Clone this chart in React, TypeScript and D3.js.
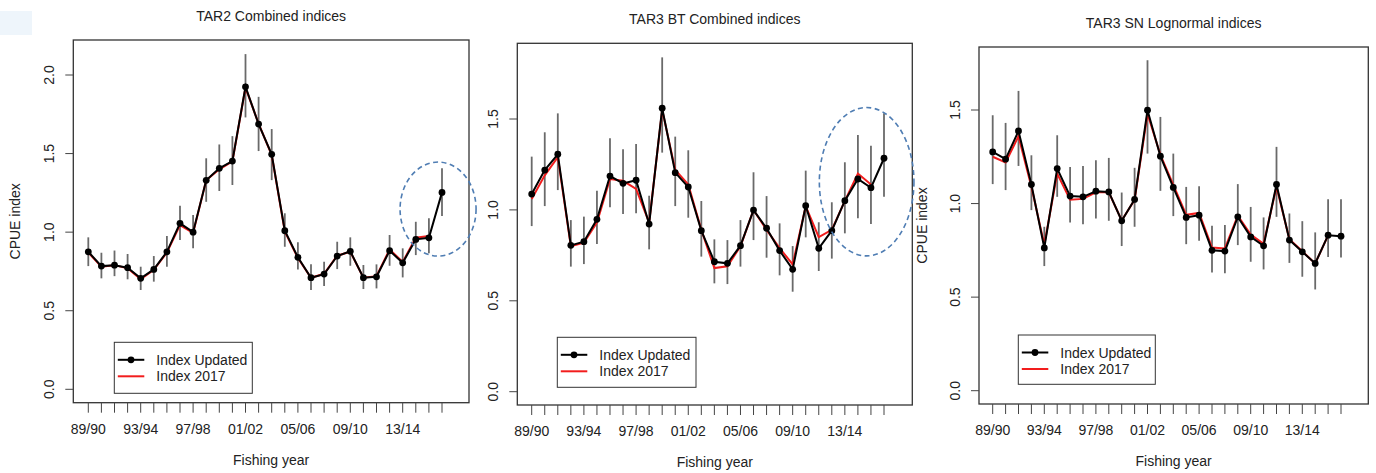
import React from 'react';
import * as d3 from 'd3';

// fishing years 89/90 .. 16/17
const years = ['89/90', '90/91', '91/92', '92/93', '93/94', '94/95', '95/96', '96/97', '97/98', '98/99',
  '99/00', '00/01', '01/02', '02/03', '03/04', '04/05', '05/06', '06/07', '07/08', '08/09',
  '09/10', '10/11', '11/12', '12/13', '13/14', '14/15', '15/16', '16/17'];
const labelledYears = ['89/90', '93/94', '97/98', '01/02', '05/06', '09/10', '13/14'];

// TAR2 Combined
const tar2Updated = [0.875, 0.784, 0.79, 0.774, 0.706, 0.763, 0.875, 1.056, 1.0, 1.33, 1.406, 1.452, 1.925, 1.688,
  1.495, 1.009, 0.84, 0.71, 0.733, 0.848, 0.878, 0.71, 0.716, 0.882, 0.805, 0.954, 0.964, 1.253];
const tar2Lower = [0.784, 0.706, 0.72, 0.70, 0.632, 0.685, 0.78, 0.95, 0.897, 1.193, 1.262, 1.30, 1.73, 1.516,
  1.331, 0.907, 0.763, 0.632, 0.657, 0.765, 0.786, 0.638, 0.642, 0.786, 0.712, 0.854, 0.865, 1.103];
const tar2Upper = [0.967, 0.869, 0.883, 0.861, 0.78, 0.848, 0.975, 1.168, 1.109, 1.47, 1.558, 1.611, 2.133, 1.861,
  1.656, 1.12, 0.935, 0.795, 0.812, 0.939, 0.967, 0.791, 0.795, 0.982, 0.897, 1.066, 1.088, 1.406];
const tar2Index2017 = [0.87, 0.78, 0.79, 0.77, 0.70, 0.76, 0.87, 1.045, 0.995, 1.33, 1.40, 1.45, 1.92, 1.69,
  1.49, 1.005, 0.835, 0.71, 0.735, 0.85, 0.875, 0.71, 0.72, 0.89, 0.81, 0.965, 0.975];

// TAR3 BT Combined
const btUpdated = [1.087, 1.219, 1.306, 0.805, 0.825, 0.948, 1.186, 1.146, 1.163, 0.922, 1.559, 1.205, 1.126, 0.886,
  0.715, 0.706, 0.803, 0.999, 0.899, 0.776, 0.673, 1.023, 0.789, 0.886, 1.051, 1.17, 1.122, 1.284];
const btLower = [0.911, 1.021, 1.109, 0.688, 0.702, 0.812, 1.014, 0.977, 0.981, 0.783, 1.315, 1.021, 0.957, 0.743,
  0.596, 0.592, 0.688, 0.834, 0.737, 0.64, 0.55, 0.849, 0.664, 0.732, 0.871, 0.954, 0.922, 1.073];
const btUpper = [1.293, 1.427, 1.531, 0.944, 0.963, 1.106, 1.394, 1.333, 1.362, 1.078, 1.839, 1.403, 1.328, 1.049,
  0.838, 0.834, 0.944, 1.207, 1.076, 0.926, 0.801, 1.216, 0.932, 1.042, 1.262, 1.412, 1.353, 1.531];
const btIndex2017 = [1.06, 1.19, 1.29, 0.80, 0.82, 0.93, 1.17, 1.16, 1.115, 0.93, 1.55, 1.22, 1.14, 0.89,
  0.68, 0.69, 0.80, 1.0, 0.89, 0.79, 0.70, 1.02, 0.85, 0.89, 1.05, 1.20, 1.14];

// TAR3 SN Lognormal
const snUpdated = [1.276, 1.237, 1.388, 1.102, 0.763, 1.187, 1.04, 1.036, 1.066, 1.062, 0.908, 1.022, 1.499, 1.253,
  1.086, 0.926, 0.938, 0.75, 0.746, 0.929, 0.822, 0.774, 1.102, 0.805, 0.742, 0.68, 0.831, 0.826];
const snLower = [1.104, 1.072, 1.201, 0.965, 0.666, 1.036, 0.899, 0.89, 0.92, 0.908, 0.773, 0.876, 1.267, 1.068,
  0.933, 0.783, 0.801, 0.632, 0.627, 0.778, 0.689, 0.648, 0.929, 0.683, 0.609, 0.541, 0.715, 0.712];
const snUpper = [1.472, 1.431, 1.602, 1.258, 0.876, 1.365, 1.196, 1.201, 1.232, 1.244, 1.059, 1.191, 1.766, 1.463,
  1.267, 1.089, 1.093, 0.881, 0.885, 1.104, 0.982, 0.926, 1.303, 0.947, 0.906, 0.846, 1.023, 1.023];
const snIndex2017 = [1.25, 1.22, 1.36, 1.09, 0.78, 1.16, 1.02, 1.025, 1.06, 1.06, 0.91, 1.02, 1.48, 1.26,
  1.10, 0.94, 0.95, 0.765, 0.76, 0.935, 0.835, 0.785, 1.09, 0.81, 0.745, 0.68, 0.83];

const yTicks2 = [0, 0.5, 1.0, 1.5, 2.0];
const yTicks15 = [0, 0.5, 1.0, 1.5];

const FONT = '"Liberation Sans", Arial, sans-serif';
const INK = '#222';

const panels = [
  {
    title: 'TAR2 Combined indices', yLabel: 'CPUE index',
    updated: tar2Updated, lower: tar2Lower, upper: tar2Upper, old: tar2Index2017, yTicks: yTicks2,
    box: { l: 73.3, t: 40, r: 469, b: 402.7 }, xr: [88.3, 442], yd: [0, 2], yr: [389.3, 75],
    titleY: 21, yLabelX: 15, legend: { x: 114.3, y: 342.3, w: 138, h: 51 },
    ellipse: { i: 26.7, v: 1.147, rx: 38, ry: 47 }
  },
  {
    title: 'TAR3 BT Combined indices', yLabel: null,
    updated: btUpdated, lower: btLower, upper: btUpper, old: btIndex2017, yTicks: yTicks15,
    box: { l: 517.3, t: 43.3, r: 912.3, b: 405 }, xr: [531.7, 884], yd: [0, 1.5], yr: [391.7, 119],
    titleY: 24, yLabelX: 0, legend: { x: 557.3, y: 337.3, w: 138.7, h: 50 },
    ellipse: { i: 25.67, v: 1.155, rx: 47.3, ry: 74.2 }
  },
  {
    title: 'TAR3 SN Lognormal indices', yLabel: 'CPUE index',
    updated: snUpdated, lower: snLower, upper: snUpper, old: snIndex2017, yTicks: yTicks15,
    box: { l: 979, t: 47, r: 1368.3, b: 404 }, xr: [992.7, 1341], yd: [0, 1.5], yr: [390.7, 110],
    titleY: 28, yLabelX: 921.7, legend: { x: 1018.3, y: 335, w: 137, h: 49.3 },
    ellipse: null
  }
];

function Panel({ p }) {
  const x = d3.scaleLinear().domain([0, years.length - 1]).range(p.xr);
  const y = d3.scaleLinear().domain(p.yd).range(p.yr);
  const line = d3.line<number>().x((_, i) => x(i)).y(d => y(d));
  const cx = (p.box.l + p.box.r) / 2;
  const cy = (p.box.t + p.box.b) / 2;
  const lg = p.legend;
  return (
    <g fontFamily={FONT} fontSize={14} fill={INK}>
      <text x={cx} y={p.titleY} textAnchor="middle">{p.title}</text>
      <rect x={p.box.l} y={p.box.t} width={p.box.r - p.box.l} height={p.box.b - p.box.t}
        fill="none" stroke="#333" strokeWidth={1.3} />

      {/* y axis */}
      {p.yTicks.map(t => (
        <g key={t}>
          <line x1={p.box.l - 8} x2={p.box.l} y1={y(t)} y2={y(t)} stroke="#444" strokeWidth={1} />
          <text transform={`translate(${p.box.l - 24},${y(t)}) rotate(-90)`} textAnchor="middle"
            dominantBaseline="central">{t.toFixed(1)}</text>
        </g>
      ))}
      {p.yLabel && (
        <text transform={`translate(${p.yLabelX},${cy}) rotate(-90)`} textAnchor="middle"
          dominantBaseline="central">{p.yLabel}</text>
      )}

      {/* x axis */}
      {years.map((yr, i) => (
        <line key={yr} x1={x(i)} x2={x(i)} y1={p.box.b} y2={p.box.b + 10} stroke="#444" strokeWidth={1} />
      ))}
      {labelledYears.map(yr => (
        <text key={yr} x={x(years.indexOf(yr))} y={p.box.b + 31} textAnchor="middle">{yr}</text>
      ))}
      <text x={cx} y={p.box.b + 62} textAnchor="middle">Fishing year</text>

      {/* error bars */}
      {p.updated.map((_, i) => (
        <line key={i} x1={x(i)} x2={x(i)} y1={y(p.lower[i])} y2={y(p.upper[i])} stroke="#6a6a6a" strokeWidth={1.8} />
      ))}
      <path d={line(p.old)} fill="none" stroke="#f21d1d" strokeWidth={2} />
      <path d={line(p.updated)} fill="none" stroke="#000" strokeWidth={2} />
      {p.updated.map((v, i) => (
        <circle key={i} cx={x(i)} cy={y(v)} r={3.4} fill="#000" />
      ))}

      {p.ellipse && (
        <ellipse cx={x(p.ellipse.i)} cy={y(p.ellipse.v)} rx={p.ellipse.rx} ry={p.ellipse.ry}
          fill="none" stroke="#4f7db3" strokeWidth={1.6} strokeDasharray="5,3.5" />
      )}

      {/* legend */}
      <rect x={lg.x} y={lg.y} width={lg.w} height={lg.h} fill="#fff" stroke="#333" strokeWidth={1} />
      <line x1={lg.x + 3.5} x2={lg.x + 30} y1={lg.y + 17.5} y2={lg.y + 17.5} stroke="#000" strokeWidth={2} />
      <circle cx={lg.x + 16.7} cy={lg.y + 17.5} r={3.4} fill="#000" />
      <text x={lg.x + 42} y={lg.y + 22.5}>Index Updated</text>
      <line x1={lg.x + 3.5} x2={lg.x + 30} y1={lg.y + 34} y2={lg.y + 34} stroke="#f21d1d" strokeWidth={2} />
      <text x={lg.x + 42} y={lg.y + 39}>Index 2017</text>
    </g>
  );
}

export default function App() {
  return (
    <svg width={1376} height={473} style={{ position: 'absolute', left: 0, top: 0, background: '#fff' }}>
      <rect x={0} y={11} width={32} height={24} fill="#eef5fb" />
      {panels.map(p => <Panel key={p.title} p={p} />)}
    </svg>
  );
}
